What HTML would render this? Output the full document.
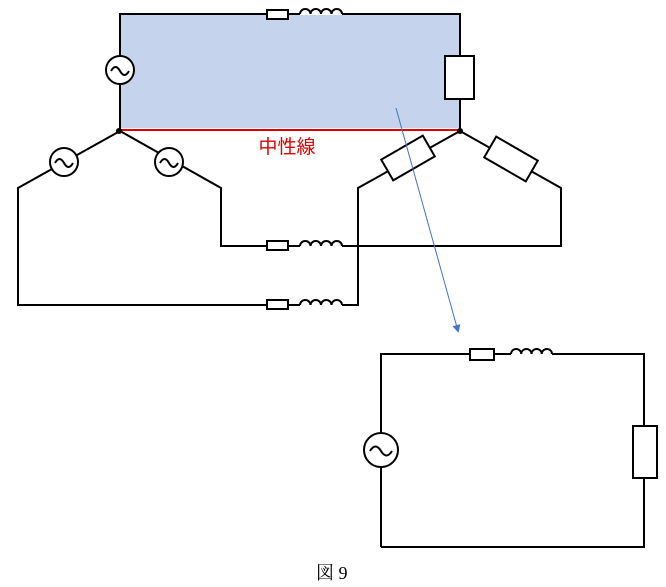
<!DOCTYPE html>
<html><head><meta charset="utf-8"><style>
html,body{margin:0;padding:0;background:#fff;}
svg{display:block;}
</style></head><body>
<svg width="666" height="587" viewBox="0 0 666 587" xmlns="http://www.w3.org/2000/svg">
<defs>
<marker id="ar" markerWidth="8" markerHeight="8" refX="6" refY="4" orient="auto" markerUnits="userSpaceOnUse">
<path d="M0,0 L8,4 L0,8 Z" fill="#4472c4"/>
</marker>
</defs>
<rect x="121" y="15" width="338" height="113" fill="#c5d4ec"/>
<g fill="none" stroke="#000" stroke-width="2">
<!-- top loop -->
<path d="M120,130 V14 H267 M288,14 H300 M342,14 H460 V130"/>
<path d="M300,14 a5.25,5 0 0 1 10.5,0 a5.25,5 0 0 1 10.5,0 a5.25,5 0 0 1 10.5,0 a5.25,5 0 0 1 10.5,0"/>
<rect x="267" y="10" width="21" height="9" fill="#fff"/>
<circle cx="120" cy="70" r="14" fill="#fff"/>
<path d="M111,71 q4.5,-8 9,0 t9,0"/>
<rect x="445" y="56" width="29" height="43" fill="#fff"/>
<!-- left star sources -->
<path d="M120,131 L18,188 V305 H267 M288,305 H300 M342,305 H358 V188 L460,131"/>
<path d="M120,131 L221,188 V246 H267 M288,246 H300 M342,246 H561 V188 L460,131"/>
<path d="M300,246 a5.25,5 0 0 1 10.5,0 a5.25,5 0 0 1 10.5,0 a5.25,5 0 0 1 10.5,0 a5.25,5 0 0 1 10.5,0"/>
<path d="M300,305 a5.25,5 0 0 1 10.5,0 a5.25,5 0 0 1 10.5,0 a5.25,5 0 0 1 10.5,0 a5.25,5 0 0 1 10.5,0"/>
<rect x="267" y="241" width="21" height="9" fill="#fff"/>
<rect x="267" y="300" width="21" height="9" fill="#fff"/>
<circle cx="64" cy="162" r="14" fill="#fff"/>
<path d="M55,163 q4.5,-8 9,0 t9,0"/>
<circle cx="169" cy="162" r="14" fill="#fff"/>
<path d="M160,163 q4.5,-8 9,0 t9,0"/>
<rect x="-24" y="-12" width="48" height="24" fill="#fff" transform="translate(408,158) rotate(-30)"/>
<rect x="-24" y="-12" width="48" height="24" fill="#fff" transform="translate(511,159) rotate(30)"/>
<!-- bottom circuit -->
<path d="M381,547 V354 H470 M494,354 H511 M552,354 H644 V547 H381"/>
<path d="M511,354 a5.1,5 0 0 1 10.25,0 a5.1,5 0 0 1 10.25,0 a5.1,5 0 0 1 10.25,0 a5.1,5 0 0 1 10.25,0"/>
<rect x="470" y="349" width="24" height="11" fill="#fff"/>
<rect x="633" y="426" width="24" height="52" fill="#fff"/>
<circle cx="381" cy="450" r="17" fill="#fff"/>
<path d="M370,451 q5.5,-9 11,0 t11,0"/>
</g>
<line x1="120" y1="130" x2="460" y2="130" stroke="#e00000" stroke-width="2"/>
<circle cx="119" cy="131" r="3" fill="#000"/>
<circle cx="460" cy="131" r="3" fill="#000"/>
<text x="287" y="153" font-family="'Liberation Sans','Noto Sans CJK JP',sans-serif" font-size="19" fill="#e00000" text-anchor="middle">中性線</text>
<line x1="396" y1="108" x2="458" y2="331" stroke="#4472c4" stroke-width="1" marker-end="url(#ar)"/>
<text x="316" y="579" font-family="'Liberation Serif','Noto Serif CJK SC',serif" font-size="18" fill="#000">図 9</text>
</svg>
</body></html>
